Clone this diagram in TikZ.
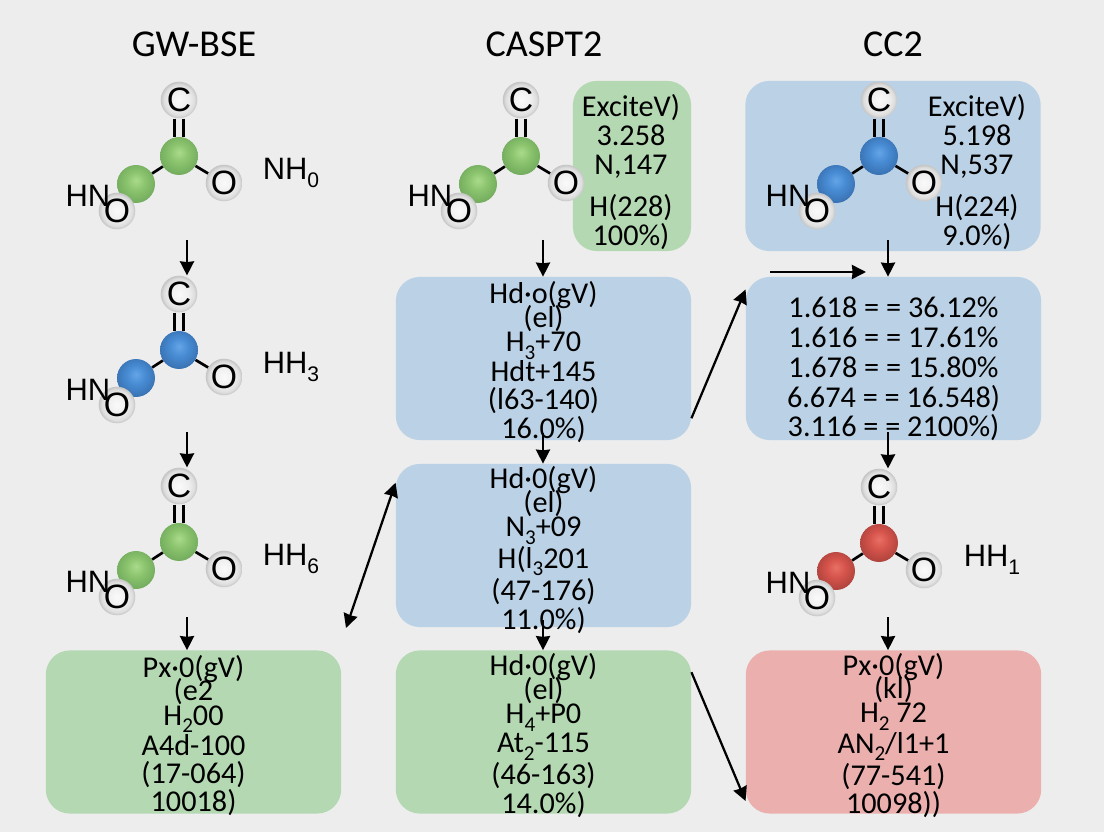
\documentclass[tikz,border=0pt]{standalone}
\usepackage{fontspec}
\setmainfont{Carlito}
\newfontfamily\atomfont{Liberation Sans}
\usepackage{xcolor}
\usetikzlibrary{arrows.meta}
\definecolor{BGgray}{RGB}{237,237,237}
\definecolor{BoxGreen}{RGB}{180,217,178}
\definecolor{BoxBlue}{RGB}{187,210,230}
\definecolor{BoxRed}{RGB}{235,176,174}
\definecolor{GrnHi}{RGB}{170,218,140}
\definecolor{GrnMid}{RGB}{140,196,110}
\definecolor{GrnLo}{RGB}{112,170,92}
\definecolor{BluHi}{RGB}{100,165,230}
\definecolor{BluMid}{RGB}{72,140,212}
\definecolor{BluLo}{RGB}{56,112,176}
\definecolor{RedHi}{RGB}{232,112,100}
\definecolor{RedMid}{RGB}{214,84,76}
\definecolor{RedLo}{RGB}{172,66,60}
\definecolor{AtmHi}{RGB}{250,250,250}
\definecolor{AtmMid}{RGB}{238,238,238}
\definecolor{AtmEdge}{RGB}{222,222,222}
\definecolor{AtmLo}{RGB}{196,196,196}
\pgfdeclareradialshading{ballgrn}{\pgfpoint{0bp}{5bp}}{color(0bp)=(GrnHi); color(12bp)=(GrnMid); color(28bp)=(GrnLo); color(50bp)=(GrnLo)}
\pgfdeclareradialshading{ballblu}{\pgfpoint{0bp}{5bp}}{color(0bp)=(BluHi); color(12bp)=(BluMid); color(28bp)=(BluLo); color(50bp)=(BluLo)}
\pgfdeclareradialshading{ballred}{\pgfpoint{0bp}{5bp}}{color(0bp)=(RedHi); color(12bp)=(RedMid); color(28bp)=(RedLo); color(50bp)=(RedLo)}
\pgfdeclareradialshading{ballwht}{\pgfpoint{0bp}{0bp}}{color(0bp)=(AtmHi); color(14bp)=(AtmMid); color(21bp)=(AtmEdge); color(25bp)=(AtmLo); color(50bp)=(AtmLo)}
% one molecule: name, centre, ball shading
\newcommand{\molec}[3]{
  \begin{scope}[shift={#2}]
    \node[ball, shading=#3] (#1m) at (0,0) {};
    \node[ball, shading=#3] (#1l) at (-43,28) {};
    \node[atm] (#1c) at (0,-56) {C};
    \node[atm] (#1r) at (45,27) {O};
    \node[atm] (#1o) at (-62,55) {O};
    \draw[bond] ([xshift=-3.4pt]#1c.south) -- ([xshift=-3.4pt]#1m.north);
    \draw[bond] ([xshift=3.4pt]#1c.south) -- ([xshift=3.4pt]#1m.north);
    \draw[bond] (#1m) -- (#1l);
    \draw[bond] (#1m) -- (#1r);
    \node[lbl] (#1h) at (-91,40) {HN};
  \end{scope}
}
\newcommand{\lsub}[1]{\raisebox{-5.5pt}{\fontsize{15}{15}\selectfont #1}}
\newcommand{\boxtext}[6]{#1\\[-3.6pt]#2\\[-2pt]#3\\[0pt]#4\\[.6pt]#5\\[1.2pt]#6}
\begin{document}
\begin{tikzpicture}[x=0.025cm, y=-0.025cm,
    ebox/.style={rectangle, rounded corners=17pt, minimum width=210pt,
                 minimum height=#1, inner sep=0pt},
    ebox/.default=116pt,
    etext/.style={align=center, inner sep=0pt,
                  font=\fontsize{21.5}{20.6}\selectfont},
    btext/.style={align=center, inner sep=0pt,
                  font=\fontsize{21.5}{19.2}\selectfont},
    ball/.style={circle, minimum size=27pt, inner sep=0pt},
    atm/.style={circle, shading=ballwht, minimum size=26pt, inner sep=0pt,
                font=\atomfont\fontsize{24}{24}\selectfont},
    bond/.style={draw=black, line width=1.9pt},
    lbl/.style={font=\atomfont\fontsize{22}{22}\selectfont, inner sep=0pt},
    ttl/.style={font=\fontsize{27}{27}\selectfont, inner sep=0pt},
    arr/.style={-{Stealth[length=10pt, width=10pt, inset=0.5pt]}, draw=black, line width=1.6pt},
    dbl/.style={{Stealth[length=10pt, width=10pt, inset=0.5pt]}-{Stealth[length=10pt, width=10pt, inset=0.5pt]}, draw=black, line width=1.6pt}
  ]
  \fill[BGgray] (0,0) rectangle (1104,832);

  \node[ttl] (tgw) at (194,44) {GW-BSE};
  \node[ttl] (tca) at (544,44) {CASPT2};
  \node[ttl] (tcc) at (893,44) {CC2};

  % boxes
  \node[ebox=121pt, minimum width=84pt, fill=BoxGreen] (exa) at (632,166) {};
  \node[ebox=121pt, fill=BoxBlue] (exb) at (893,166) {};
  \node[ebox, fill=BoxBlue] (hda) at (543.5,358.5) {};
  \node[ebox, fill=BoxBlue] (hdb) at (543.5,545.5) {};
  \node[ebox, fill=BoxGreen] (hdc) at (543.5,732) {};
  \node[ebox, fill=BoxGreen] (pxa) at (193.5,732) {};
  \node[ebox, fill=BoxRed] (pxb) at (893.5,732) {};
  \node[ebox, fill=BoxBlue] (pct) at (893.5,358.5) {};

  % box texts
  \node[btext] (hdat) at (543.5,362)
    {\boxtext{Hd\textperiodcentered o(gV)}{(el)}{H\lsub{3}+70}{Hdt+145}{(l63-140)}{16.0\%)}};
  \node[btext] (hdbt) at (543.5,550)
    {\boxtext{Hd\textperiodcentered 0(gV)}{(el)}{N\lsub{3}+09}{H(l\lsub{3}201}{(47-176)}{11.0\%)}};
  \node[btext] (hdct) at (543.5,735.5)
    {\boxtext{Hd\textperiodcentered 0(gV)}{(el)}{H\lsub{4}+P0}{At\lsub{2}-115}{(46-163)}{14.0\%)}};
  \node[btext] (pxat) at (193.5,735.5)
    {\boxtext{Px\textperiodcentered 0(gV)}{(e2}{H\lsub{2}00}{A4d-100}{(17-064)}{10018)}};
  \node[btext] (pxbt) at (893.5,735.5)
    {\boxtext{Px\textperiodcentered 0(gV)}{(kl)}{H\lsub{2} 72}{AN\lsub{2}/l1+1}{(77-541)}{10098))}};
  \node[etext, font=\fontsize{21.5}{21.2}\selectfont] (pctt) at (893.5,369)
    {1.618 = = 36.12\%\\ 1.616 = = 17.61\%\\ 1.678 = = 15.80\%\\ 6.674 = = 16.548)\\ 3.116 = = 2100\%)};
  \node[etext] (txa) at (631,172)
    {ExciteV)\\ 3.258\\ N,147\\[9pt] H(228)\\ 100\%)};
  \node[etext] (txb) at (977,172)
    {ExciteV)\\ 5.198\\ N,537\\[9pt] H(224)\\ 9.0\%)};

  % molecules
  \molec{ma}{(179,156)}{ballgrn}
  \molec{mb}{(179,350)}{ballblu}
  \molec{mc}{(179,542)}{ballgrn}
  \molec{md}{(521,156)}{ballgrn}
  \molec{me}{(879,156)}{ballblu}
  \molec{mf}{(879,543)}{ballred}

  \node[lbl] (nha) at (291,173) {NH\lsub{0}};
  \node[lbl] (nhb) at (291,367) {HH\lsub{3}};
  \node[lbl] (nhc) at (291,559) {HH\lsub{6}};
  \node[lbl] (nhd) at (992,560) {HH\lsub{1}};

  % arrow starts
  \coordinate (sa) at (187,240);
  \coordinate (sb) at (187,432);
  \coordinate (sc) at (187,617);
  \coordinate (sd) at (543,240);
  \coordinate (se) at (543,433);
  \coordinate (sf) at (543,620);
  \coordinate (sg) at (888,240);
  \coordinate (sh) at (888,432);
  \coordinate (si) at (888,617);
  \coordinate (ha) at (770,272);
  \coordinate (hb) at (866,272);
  \coordinate (da) at (346,628);

  \draw[arr] (sa) -- (sa |- mbc.north);
  \draw[arr] (sb) -- (sb |- mcc.north);
  \draw[arr] (sc) -- (sc |- pxa.north);
  \draw[arr] (sd) -- (sd |- hda.north);
  \draw[arr] (se) -- (se |- hdb.north);
  \draw[arr] (sf) -- (sf |- hdc.north);
  \draw[arr] (sg) -- (sg |- pct.north);
  \draw[arr] (sh) -- (sh |- mfc.north);
  \draw[arr] (si) -- (si |- pxb.north);
  \draw[arr] (ha) -- (hb);
  \draw[arr] (hda.-22.6) -- (pct.155.6);
  \draw[arr] (hdc.22.1) -- (pxb.205);
  \draw[dbl] (da) -- (hdb.157.6);
\end{tikzpicture}
\end{document}
